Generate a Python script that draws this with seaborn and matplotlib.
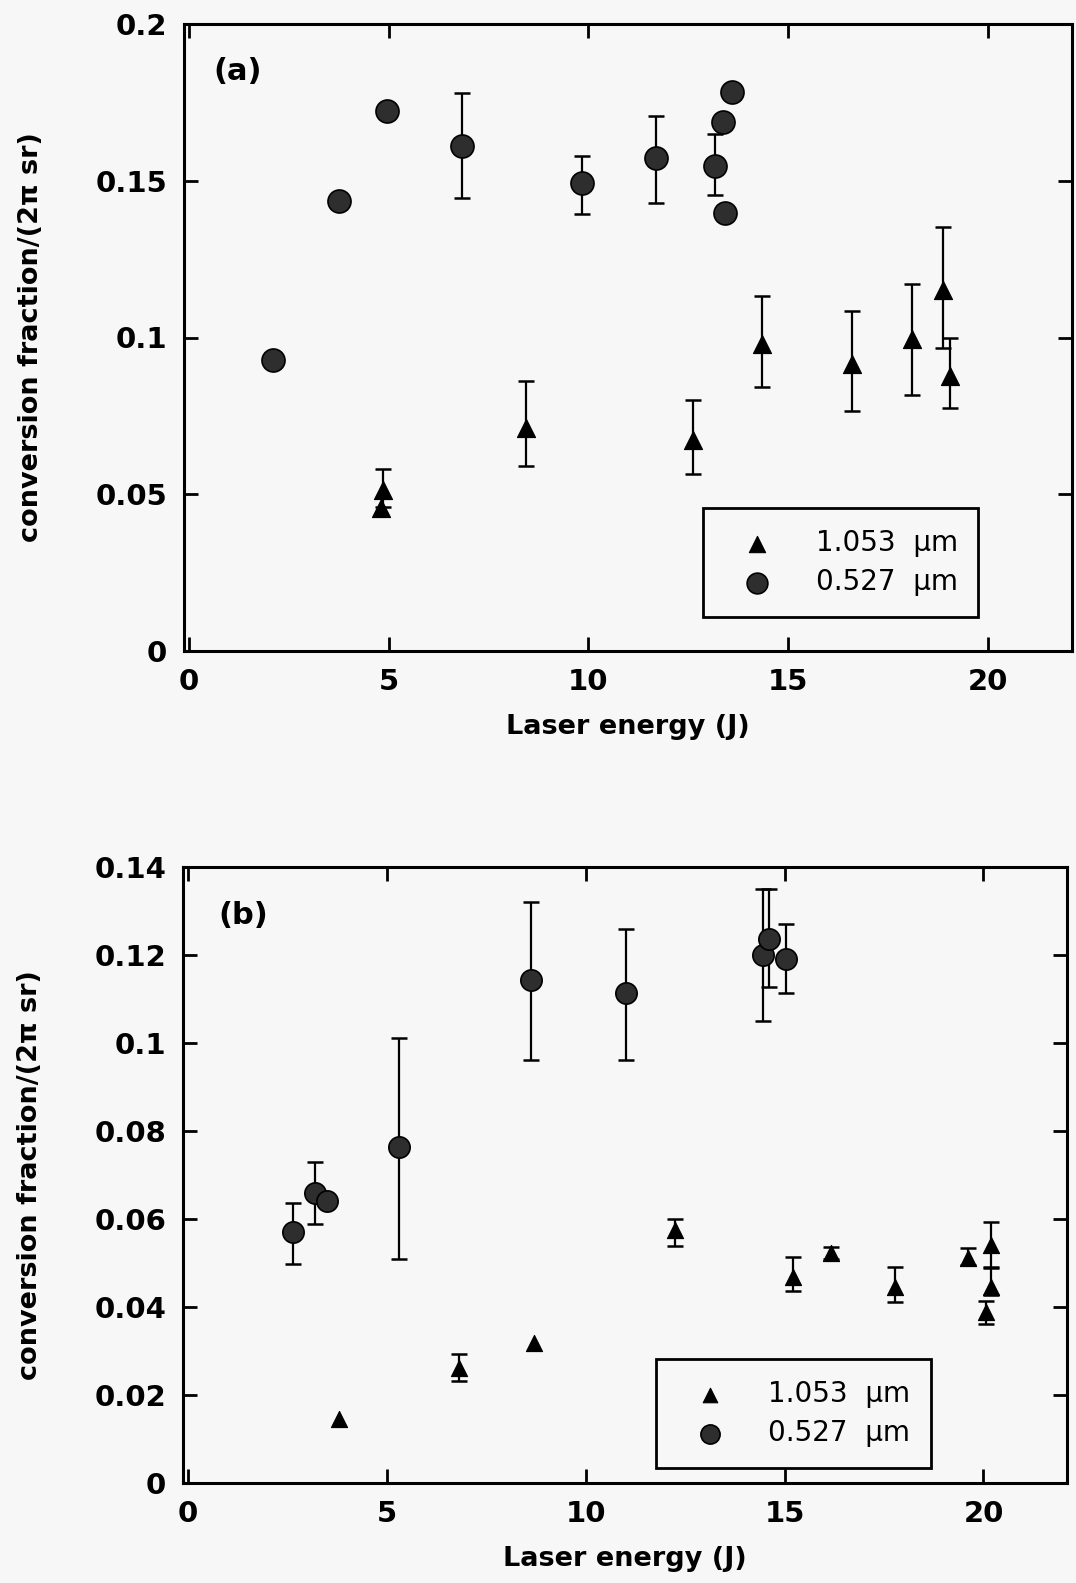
import numpy as np
import pandas as pd
import matplotlib
matplotlib.use("Agg")
import matplotlib.pyplot as plt
import seaborn as sns

nan = np.nan

# ---------------- data: panel (a) ----------------
a_ir_x = [4.82, 4.87, 8.43, 12.62, 14.35, 16.59, 18.09, 18.87, 19.05]
a_ir_y = [0.0456, 0.0514, 0.0711, 0.0674, 0.0978, 0.0914, 0.0994, 0.1153, 0.0876]
a_ir_lo = [nan, 0.0460, 0.0589, 0.0566, 0.0843, 0.0767, 0.0818, 0.0967, 0.0775]
a_ir_hi = [nan, 0.0581, 0.0860, 0.0802, 0.1132, 0.1084, 0.1172, 0.1354, 0.0999]

a_gr_x = [2.10, 3.76, 4.96, 6.84, 9.84, 11.69, 13.17, 13.37, 13.41, 13.59]
a_gr_y = [0.0927, 0.1434, 0.1723, 0.1611, 0.1492, 0.1574, 0.1547, 0.1686, 0.1398, 0.1782]
a_gr_lo = [nan, nan, nan, 0.1446, 0.1395, 0.1430, 0.1455, nan, nan, nan]
a_gr_hi = [nan, nan, nan, 0.1780, 0.1580, 0.1707, 0.1649, nan, nan, nan]

# ---------------- data: panel (b) ----------------
b_ir_x = [3.81, 6.83, 8.71, 12.24, 15.21, 16.17, 17.78, 19.61, 20.06, 20.18, 20.18]
b_ir_y = [0.0145, 0.0261, 0.0318, 0.0575, 0.0469, 0.0522, 0.0446, 0.0512, 0.0389, 0.0445, 0.0540]
b_ir_lo = [nan, 0.0233, nan, 0.0538, 0.0436, 0.0509, 0.0412, 0.0495, 0.0361, 0.0427, 0.0488]
b_ir_hi = [nan, 0.0293, nan, 0.0600, 0.0514, 0.0537, 0.0491, 0.0533, 0.0414, 0.0491, 0.0593]

b_gr_x = [2.64, 3.20, 3.50, 5.31, 8.62, 11.01, 14.47, 14.60, 15.04]
b_gr_y = [0.0571, 0.0659, 0.0640, 0.0764, 0.1142, 0.1112, 0.1200, 0.1236, 0.1189]
b_gr_lo = [0.0497, 0.0588, nan, 0.0510, 0.0960, 0.0960, 0.1050, 0.1127, 0.1114]
b_gr_hi = [0.0637, 0.0729, nan, 0.1011, 0.1319, 0.1259, 0.1350, 0.1350, 0.1270]

series_labels = ["1.053  \u00b5m", "0.527  \u00b5m"]
x_ticks = [0, 5, 10, 15, 20]
x_ticklabels = ["0", "5", "10", "15", "20"]
a_yticks = [0, 0.05, 0.1, 0.15, 0.2]
a_yticklabels = ["0", "0.05", "0.1", "0.15", "0.2"]
b_yticks = [0, 0.02, 0.04, 0.06, 0.08, 0.1, 0.12, 0.14]
b_yticklabels = ["0", "0.02", "0.04", "0.06", "0.08", "0.1", "0.12", "0.14"]
panel_labels = ["(a)", "(b)"]
xlabel = "Laser energy (J)"
ylabel = "conversion fraction/(2\u03c0 sr)"

BG = "#f7f7f7"
sns.set_style("ticks")
plt.rcParams["font.family"] = ["DejaVu Sans"]
plt.rcParams["axes.linewidth"] = 2.0
plt.rcParams["text.color"] = "black"
plt.rcParams["axes.labelcolor"] = "black"
plt.rcParams["xtick.color"] = "black"
plt.rcParams["ytick.color"] = "black"

fig = plt.figure(figsize=(10.76, 15.83), dpi=100, facecolor=BG)
W, H = 1076, 1583
def rect(l, r, t, b):
    return [l / W, 1 - b / H, (r - l) / W, (b - t) / H]

ax_a = fig.add_axes(rect(184, 1072, 24, 651))
ax_b = fig.add_axes(rect(183, 1067, 866.5, 1483.3))

def make_df(x, y, lo, hi, label):
    return pd.DataFrame({"x": x, "y": y, "lo": lo, "hi": hi, "series": label})

panels = [
    (ax_a, make_df(a_ir_x, a_ir_y, a_ir_lo, a_ir_hi, series_labels[0]),
     make_df(a_gr_x, a_gr_y, a_gr_lo, a_gr_hi, series_labels[1]),
     a_yticks, a_yticklabels, (0, 0.2), panel_labels[0], 170, 275,
     (0.5845, 0.228), (0.033, 0.924)),
    (ax_b, make_df(b_ir_x, b_ir_y, b_ir_lo, b_ir_hi, series_labels[0]),
     make_df(b_gr_x, b_gr_y, b_gr_lo, b_gr_hi, series_labels[1]),
     b_yticks, b_yticklabels, (0, 0.14), panel_labels[1], 135, 235,
     (0.535, 0.201), (0.040, 0.921)),
]

for ax, dir_, dgr, yt, ytl, ylim, plabel, s_tri, s_circ, legpos, labpos in panels:
    ax.set_facecolor(BG)
    for d in (dir_, dgr):
        m = d["lo"].notna()
        dd = d[m]
        ax.errorbar(dd["x"], dd["y"],
                    yerr=[dd["y"] - dd["lo"], dd["hi"] - dd["y"]],
                    fmt="none", ecolor="black", elinewidth=1.6,
                    capsize=5.5, capthick=1.8, zorder=2)
    sns.scatterplot(data=dir_, x="x", y="y", ax=ax, marker="^", s=s_tri,
                    color="black", edgecolor="black", linewidth=0.8,
                    label=series_labels[0], zorder=3)
    sns.scatterplot(data=dgr, x="x", y="y", ax=ax, marker="o", s=s_circ,
                    color="#2e2e2e", edgecolor="black", linewidth=1.2,
                    label=series_labels[1], zorder=3)
    ax.set_xlim(-0.12, 22.1)
    ax.set_ylim(*ylim)
    ax.set_xticks(x_ticks)
    ax.set_xticklabels(x_ticklabels)
    ax.set_yticks(yt)
    ax.set_yticklabels(ytl)
    ax.tick_params(direction="in", top=True, right=True, length=10, width=2,
                   labelsize=21, colors="black")
    ax.tick_params(axis="y", pad=12)
    ax.tick_params(axis="x", pad=12)
    for lab in ax.get_xticklabels() + ax.get_yticklabels():
        lab.set_fontweight("bold")
    ax.set_xlabel(xlabel, fontsize=19.5, fontweight="bold", color="black")
    ax.set_ylabel(ylabel, fontsize=19.5, fontweight="bold", color="black")
    ax.yaxis.set_label_coords(-0.158, 0.5)
    ax.xaxis.set_label_coords(0.5, -0.101)
    for sp in ax.spines.values():
        sp.set_linewidth(2.2)
        sp.set_color("black")
    ax.text(labpos[0], labpos[1], plabel, transform=ax.transAxes,
            fontsize=22, fontweight="bold", ha="left", va="center",
            color="black")
    leg = ax.legend(loc="upper left", bbox_to_anchor=legpos, fontsize=20,
                    frameon=True, fancybox=False, edgecolor="black",
                    facecolor=BG, framealpha=1, borderpad=0.75,
                    handlelength=2.4, handletextpad=0.9, labelspacing=0.4,
                    markerscale=0.9, borderaxespad=0, labelcolor="black")
    leg.get_frame().set_linewidth(2.0)

fig.savefig("out.png", dpi=100, facecolor=BG)
